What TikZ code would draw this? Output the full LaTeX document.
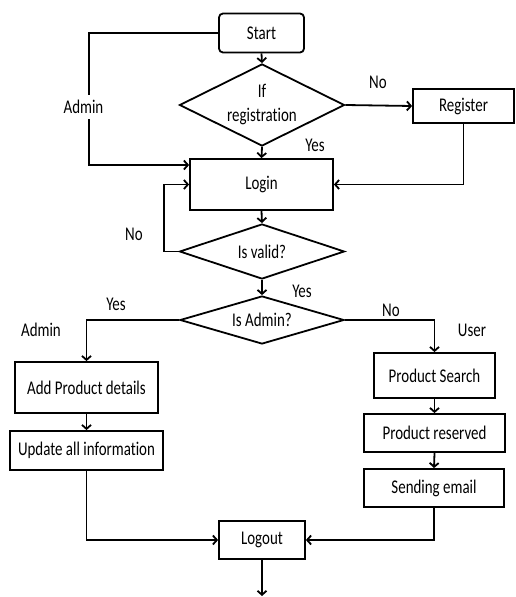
\documentclass[tikz,border=0pt]{standalone}
\usepackage{fontspec}
\newfontfamily\flowfont[FakeStretch=0.77,Ligatures=NoCommon]{Carlito}
\usepackage{tikz}
\usetikzlibrary{shapes.geometric,arrows.meta}
\tikzset{>={Straight Barb[length=4pt,width=9pt]}}
\tikzset{
  every node/.style={font=\flowfont\fontsize{19.4}{24}\selectfont},
  flowbox/.style={shape=rectangle,draw,line width=1.8pt,fill=white,align=center,inner sep=0pt},
  startbox/.style={flowbox,rounded corners=4pt},
  decision/.style={shape=diamond,draw,line width=1.8pt,fill=white,aspect=2,inner sep=0pt,align=center},
  flowline/.style={line width=1.8pt},
  lbl/.style={inner sep=1pt}
}

\begin{document}
\begin{tikzpicture}[x=1pt,y=-1pt]

\useasboundingbox (0,0) rectangle (516,597);

\path (261.5,33) node (start) [startbox,minimum width=85pt,minimum height=39pt]{Start};

\path (262,105) node (ifreg) [decision,minimum width=165pt,minimum height=82pt]{If\\registration};

\path (463.5,106) node (register) [flowbox,minimum width=101pt,minimum height=34pt]{Register};

\path (261.5,184.5) node (login) [flowbox,minimum width=143pt,minimum height=51pt]{Login};

\path (262,251.5) node (valid) [decision,minimum width=165pt,minimum height=55pt]{Is valid?};

\path (262,320) node (isadmin) [decision,minimum width=164pt,minimum height=48pt]{Is Admin?};

\path (86.5,387.5) node (addprod) [flowbox,minimum width=143pt,minimum height=51pt]{Add Product details};

\path (86.5,450.5) node (update) [flowbox,minimum width=153pt,minimum height=39pt]{Update all information};

\path (434.5,375.5) node (search) [flowbox,minimum width=121pt,minimum height=45pt]{Product Search};

\path (434.5,433) node (reserved) [flowbox,minimum width=141pt,minimum height=38pt]{Product reserved};

\path (434,488) node (email) [flowbox,minimum width=140pt,minimum height=38pt]{Sending email};

\path (262,540) node (logout) [flowbox,minimum width=86pt,minimum height=38pt]{Logout};

\coordinate (adminturn) at (89,165);
\coordinate (noturn) at (164,184.5);
\coordinate (finish) at (262,596);

\draw[flowline,->] (start.south) -- (ifreg.north);
\draw[flowline,->] (ifreg.east) -- (register.west);
\draw[flowline,->] (ifreg.south) -- (login.north);
\draw[flowline,->] (start.west) -| (adminturn) -- (login.west |- adminturn);
\draw[flowline,->] (register.south) |- (login.east);
\draw[flowline,->] (login.south) -- (valid.north);
\draw[flowline,->] (valid.west) -| (noturn) -- (login.west);
\draw[flowline,->] (valid.south) -- (isadmin.north);
\draw[flowline,->] (isadmin.west) -| (addprod.north);
\draw[flowline,->] (isadmin.east) -| (search.north);
\draw[flowline,->] (addprod.south) -- (update.north);
\draw[flowline,->] (search.south) -- (reserved.north);
\draw[flowline,->] (reserved.south) -- (email.north);
\draw[flowline,->] (update.south) |- (logout.west);
\draw[flowline,->] (email.south) |- (logout.east);
\draw[flowline,->] (logout.south) -- (finish);

\path (83.5,107) node (adminlbl) [lbl,fill=white,inner sep=5pt]{Admin};
\path (378,82) node (noreg) [lbl]{No};
\path (315,145) node (yesreg) [lbl]{Yes};
\path (134,234) node (novalid) [lbl]{No};
\path (302,291) node (yesvalid) [lbl]{Yes};
\path (116,304) node (yesadmin) [lbl]{Yes};
\path (41,330) node (adminside) [lbl]{Admin};
\path (391,310) node (noadmin) [lbl]{No};
\path (472,330) node (userside) [lbl]{User};

\end{tikzpicture}
\end{document}
